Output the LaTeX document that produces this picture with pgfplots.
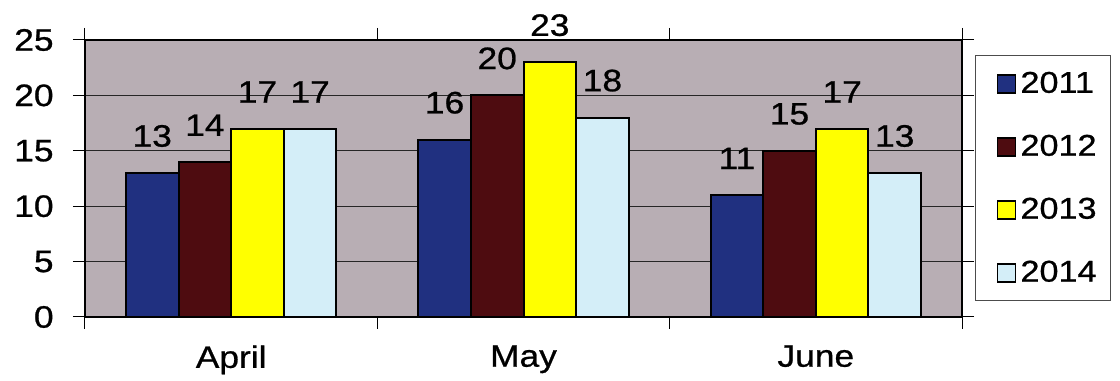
\documentclass[border=0pt]{standalone}
\usepackage{fontspec}
\setmainfont{Liberation Sans}[FakeStretch=1.14, FakeBold=0.8]
\usepackage{pgfplots}
\pgfplotsset{compat=1.18}
\definecolor{bgcol}{RGB}{184,174,180}
\definecolor{cA}{RGB}{32,48,128}
\definecolor{cB}{RGB}{78,12,16}
\definecolor{cC}{RGB}{255,255,0}
\definecolor{cD}{RGB}{212,238,248}
\pgfplotsset{/pgfplots/ybar legend/.style={/pgfplots/legend image code/.code={%
  \path (0pt,0pt);
  \draw[##1,draw=black,line width=0.9pt] (5.5pt,-4.5pt) rectangle (14.5pt,4.5pt);}}}
\begin{document}
\begin{tikzpicture}[font=\fontsize{15.5}{18}\selectfont]
\begin{axis}[
  scale only axis, width=438.5pt, height=138.5pt,
  xmin=-0.5, xmax=2.5, ymin=0, ymax=25,
  ybar=0pt, bar width=0.18,
  ytick={0,5,...,25},
  xtick={-0.5,0.5,1.5,2.5}, xticklabels={},
  extra x ticks={0,1,2}, extra x tick labels={April,May,June},
  extra x tick style={major tick length=0pt, tick label style={inner sep=0pt, yshift=-14pt}},
  tick align=outside, major tick length=6pt,
  tick style={black, line width=0.5pt},
  yticklabel style={anchor=east, inner sep=0pt, xshift=-9.5pt},
  /pgf/number format/assume math mode=true,
  ymajorgrids, major grid style={black!85, line width=0.5pt},
  axis background/.style={fill=bgcol},
  axis line style={black, line width=0.8pt},
  nodes near coords,
  every node near coord/.append style={inner sep=0pt, yshift=12.5pt, black},
  legend style={at={(axis description cs:1.0148,0.945)}, anchor=north west,
    draw=black!70, line width=0.6pt, fill=white, inner xsep=5pt, inner ysep=6pt,
    row sep=15.5pt, cells={anchor=west}, font=\fontsize{15}{18}\selectfont},
]
\addplot[fill=cA, draw=black, line width=1pt, bar shift=-0.27] coordinates {(0,13) (1,16) (2,11)};
\addplot[fill=cB, draw=black, line width=1pt, bar shift=-0.09] coordinates {(0,14) (1,20) (2,15)};
\addplot[fill=cC, draw=black, line width=1pt, bar shift=0.09] coordinates {(0,17) (1,23) (2,17)};
\addplot[fill=cD, draw=black, line width=1pt, bar shift=0.27] coordinates {(0,17) (1,18) (2,13)};
\legend{2011,2012,2013,2014}
\end{axis}
\pgfresetboundingbox
\path ([shift={(-42.5pt,-32pt)}]current axis.south west) rectangle ([shift={(79pt,20pt)}]current axis.north east);
\end{tikzpicture}
\end{document}
